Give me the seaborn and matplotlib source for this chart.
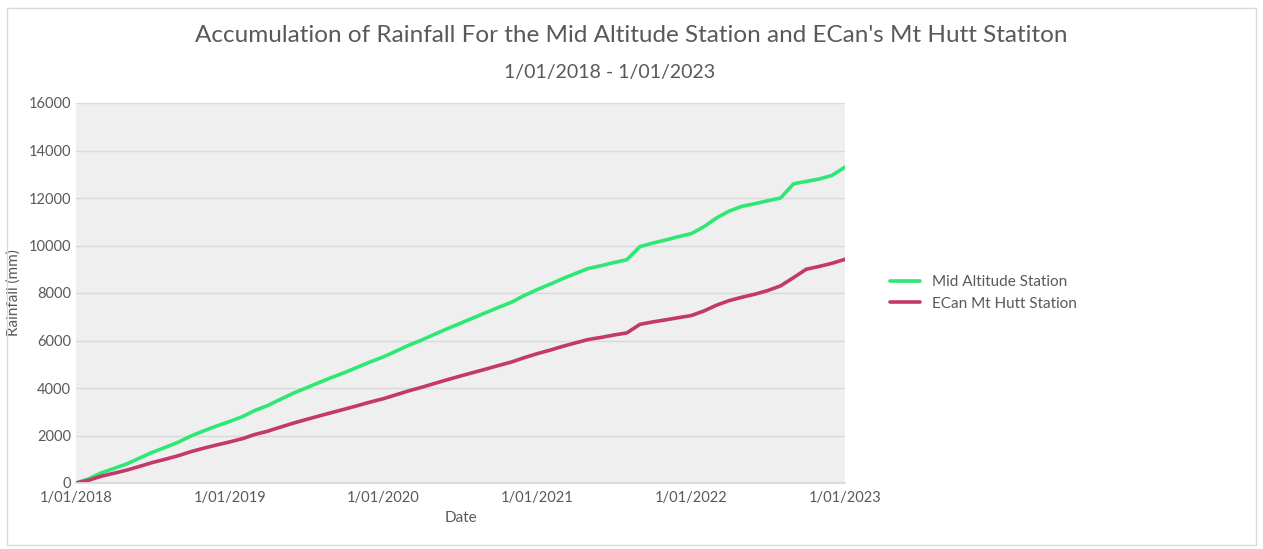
import pandas as pd
import matplotlib.pyplot as plt
import matplotlib.dates as mdates
import seaborn as sns

# Monthly cumulative rainfall (mm), 1/01/2018 .. 1/01/2023
dates = pd.date_range("2018-01-01", "2023-01-01", freq="MS")

mid_altitude = [0, 180, 420, 610, 800, 1050, 1290, 1500, 1720, 1980,
                2200, 2400, 2590, 2800, 3050, 3260, 3520, 3780, 4000, 4230,
                4450, 4650, 4880, 5100, 5310, 5560, 5800, 6020, 6260, 6500,
                6720, 6950, 7180, 7400, 7620, 7900, 8150, 8380, 8600, 8820,
                9030, 9150, 9280, 9400, 9950, 10100, 10230, 10370, 10500, 10800,
                11150, 11450, 11650, 11760, 11880, 12000, 12600, 12700, 12800, 12950,
                13300]

ecan_mt_hutt = [0, 120, 280, 410, 540, 700, 860, 1000, 1150, 1320,
                1470, 1600, 1730, 1870, 2040, 2180, 2350, 2520, 2670, 2820,
                2970, 3110, 3260, 3410, 3550, 3720, 3880, 4030, 4190, 4350,
                4500, 4650, 4800, 4950, 5100, 5280, 5450, 5600, 5750, 5900,
                6040, 6130, 6230, 6320, 6680, 6780, 6870, 6960, 7050, 7250,
                7480, 7680, 7820, 7950, 8100, 8300, 8650, 9000, 9120, 9250,
                9420]

stations = ["Mid Altitude Station", "ECan Mt Hutt Station"]
colors = ["#2ee873", "#c4386a"]
y_ticks = list(range(0, 16001, 2000))

df = pd.concat([
    pd.DataFrame({"Date": dates, "Rainfall": mid_altitude, "Station": stations[0]}),
    pd.DataFrame({"Date": dates, "Rainfall": ecan_mt_hutt, "Station": stations[1]}),
])

sns.set_theme(style="white")
plt.rcParams["font.family"] = ["Lato", "DejaVu Sans"]
grey = "#595959"

fig = plt.figure(figsize=(12.63, 5.49), dpi=100)
fig.patch.set_facecolor("white")
ax = fig.add_axes([76 / 1263, 66 / 549, (845 - 76) / 1263, (483 - 103) / 549])
ax.set_facecolor("#efefef")

sns.lineplot(data=df, x="Date", y="Rainfall", hue="Station", palette=colors,
             linewidth=2.6, ax=ax)

ax.set_ylim(0, 16000)
ax.set_yticks(y_ticks)
ax.set_xlim(dates[0], dates[-1])
ax.xaxis.set_major_locator(mdates.YearLocator())
ax.xaxis.set_major_formatter(mdates.DateFormatter("%-d/%m/%Y"))
ax.grid(axis="y", color="#d9d9d9", linewidth=1)
ax.tick_params(axis="both", colors=grey, labelsize=10.5, length=0)
ax.tick_params(axis="x", pad=6)
for s in ax.spines.values():
    s.set_visible(False)
ax.spines["bottom"].set_visible(True)
ax.spines["bottom"].set_color("#d9d9d9")

ax.set_xlabel("Date", color=grey, fontsize=11)
ax.set_ylabel("Rainfall (mm)", color=grey, fontsize=11, labelpad=6)

ax.legend(title=None, frameon=False, fontsize=11, labelcolor=grey,
          loc="center left", bbox_to_anchor=(1.04, 0.5))

fig.text(0.5, 0.935, "Accumulation of Rainfall For the Mid Altitude Station and ECan's Mt Hutt Statiton",
         ha="center", va="center", fontsize=17.5, color=grey)
fig.text(0.483, 0.868, "1/01/2018 - 1/01/2023", ha="center", va="center",
         fontsize=14, color=grey)

# chart border
fig.add_artist(plt.Rectangle((7 / 1263, 4 / 549), 1 - 14 / 1263, 1 - 12 / 549,
                             transform=fig.transFigure, fill=False,
                             edgecolor="#d9d9d9", linewidth=1))

fig.savefig("out.png", dpi=100)
